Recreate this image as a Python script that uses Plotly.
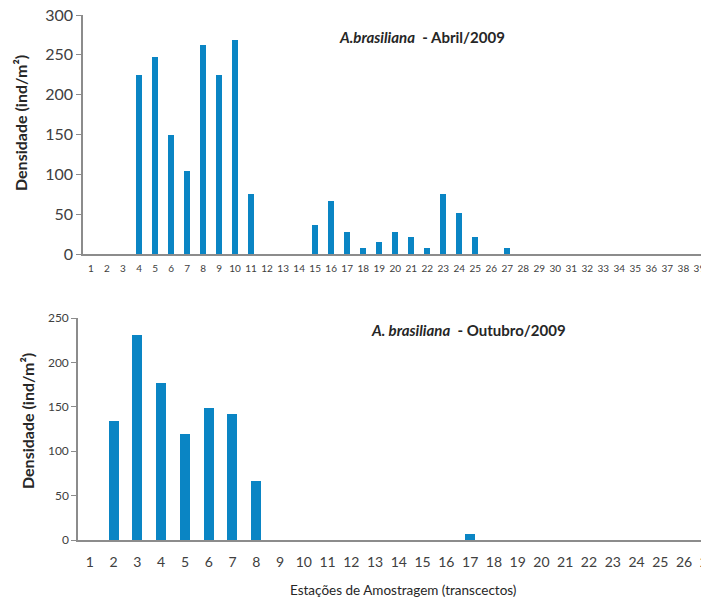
import plotly.graph_objects as go

# ---- data ----
stations_abril = list(range(1, 40))
dens_abril = [0, 0, 0, 225, 247, 150, 104, 262, 225, 269, 75, 0, 0, 0, 37, 67, 28,
              8, 15, 28, 21, 8, 75, 52, 21, 0, 8] + [0] * 12
stations_out = list(range(1, 28))
dens_out = [0, 134, 231, 177, 119, 149, 142, 67, 0, 0, 0, 0, 0, 0, 0, 0, 7,
            0, 0, 0, 0, 0, 0, 0, 0, 0, 0]

yticks_abril = [0, 50, 100, 150, 200, 250, 300]
yticks_out = [0, 50, 100, 150, 200, 250]

title_abril = "<b><i>A.brasiliana</i>  - Abril/2009</b>"
title_out = "<b><i>A. brasiliana</i>  - Outubro/2009</b>"
ytitle = "<b>Densidade (ind/m²)</b>"
xtitle = "Estações de Amostragem (transcectos)"

OFF = 8  # default page body margin
W, H = 709 - OFF, 600 - OFF
BAR = "#0a85c4"
AX = "#8c8c8c"
TXT = "#404040"
DARK = "#262626"
FONT = "Lato"

def px(x):
    return (x - OFF) / W

def py(y):
    return 1 - (y - OFF) / H

fig = go.Figure()
fig.add_trace(go.Bar(x=stations_abril, y=dens_abril, width=0.37, marker_color=BAR,
                     marker_line_width=0, xaxis="x", yaxis="y", showlegend=False))
fig.add_trace(go.Bar(x=stations_out, y=dens_out, width=0.42, marker_color=BAR,
                     marker_line_width=0, xaxis="x2", yaxis="y2", showlegend=False))

common = dict(showgrid=False, zeroline=False, showline=True, linecolor=AX, linewidth=1.5,
              automargin=False, ticklabeloverflow="allow")

def note(text, x, y, size=14, angle=0):
    return dict(text=text, x=px(x), y=py(y), xref="paper", yref="paper",
                xanchor="center", yanchor="middle", textangle=angle,
                showarrow=False, font=dict(size=size, color=DARK, family=FONT))

fig.update_layout(
    width=W, height=H,
    margin=dict(l=0, r=0, t=0, b=0, autoexpand=False),
    paper_bgcolor="white", plot_bgcolor="white",
    font=dict(family=FONT, color=TXT),
    bargap=0,
    xaxis=dict(domain=[px(83), 1], range=[0.5, 39.6], tickmode="array",
               tickvals=stations_abril, ticktext=[str(s) for s in stations_abril],
               ticks="", tickfont=dict(size=10, color=TXT), anchor="y",
               ticklabelstandoff=4, **common),
    yaxis=dict(domain=[py(254), py(15)], range=[0, 300], tickvals=yticks_abril,
               ticks="outside", ticklen=5, tickcolor=AX, tickwidth=1.2,
               tickfont=dict(size=16, color=TXT), anchor="x", **common),
    xaxis2=dict(domain=[px(78), 1], range=[0.5, 27.05], tickmode="array",
                tickvals=stations_out, ticktext=[str(s) for s in stations_out],
                ticks="", tickfont=dict(size=14, color=TXT), anchor="y2",
                ticklabelstandoff=8, **common),
    yaxis2=dict(domain=[py(540), py(318)], range=[0, 250], tickvals=yticks_out,
                ticks="outside", ticklen=5, tickcolor=AX, tickwidth=1.2,
                tickfont=dict(size=12, color=TXT), anchor="x2", **common),
    annotations=[
        note(title_abril, 422, 37, size=15),
        note(title_out, 468, 330, size=15),
        note(ytitle, 20, 123, size=16, angle=-90),
        note(ytitle, 27, 421, size=16, angle=-90),
        note(xtitle, 403, 590, size=13.5),
    ],
)

fig.write_html("out.html")
